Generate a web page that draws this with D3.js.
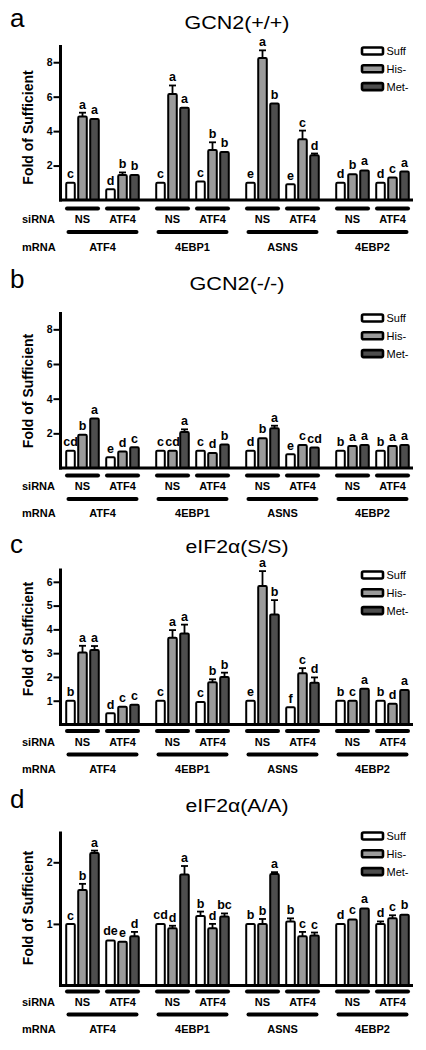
<!DOCTYPE html>
<html><head><meta charset="utf-8">
<script src="https://cdn.jsdelivr.net/npm/d3@7"></script>
<style>
html,body{margin:0;padding:0;background:#fff;}
svg{display:block;font-family:"Liberation Sans",Arial,Helvetica,sans-serif;}
</style></head>
<body>
<svg id="chart" width="426" height="1050"></svg>
<script>
// ---------- data ----------
const genes = ["ATF4", "4EBP1", "ASNS", "4EBP2"];
const sirnas = ["NS", "ATF4"];
const series = ["Suff", "His-", "Met-"];

// values in order: ATF4-NS, ATF4-ATF4, 4EBP1-NS, 4EBP1-ATF4, ASNS-NS, ASNS-ATF4, 4EBP2-NS, 4EBP2-ATF4
const aSuff = [1.0, 0.62, 1.0, 1.07, 1.0, 0.92, 1.0, 1.0];
const aHis  = [4.85, 1.45, 6.15, 2.9, 8.24, 3.53, 1.5, 1.3];
const aMet  = [4.7, 1.45, 5.35, 2.78, 5.6, 2.6, 1.72, 1.65];
const aSuffErr = [0.02, 0.02, 0.02, 0.02, 0.02, 0.02, 0.02, 0.02];
const aHisErr  = [0.22, 0.15, 0.5, 0.45, 0.45, 0.5, 0.04, 0.04];
const aMetErr  = [0.05, 0.08, 0.05, 0.05, 0.05, 0.1, 0.06, 0.06];
const aLetters = [["c","a","a"],["d","b","b"],["c","a","a"],["c","b","b"],["e","a","b"],["e","c","d"],["d","b","a"],["d","c","a"]];

const bSuff = [1.0, 0.62, 1.0, 1.0, 1.0, 0.8, 1.0, 1.0];
const bHis  = [1.92, 0.95, 1.0, 0.87, 1.72, 1.33, 1.27, 1.27];
const bMet  = [2.85, 1.2, 2.08, 1.35, 2.3, 1.18, 1.33, 1.33];
const bSuffErr = [0.02, 0.02, 0.02, 0.02, 0.02, 0.02, 0.02, 0.02];
const bHisErr  = [0.07, 0.03, 0.03, 0.03, 0.06, 0.06, 0.03, 0.03];
const bMetErr  = [0.04, 0.04, 0.15, 0.06, 0.14, 0.03, 0.03, 0.04];
const bLetters = [["cd","b","a"],["e","d","c"],["c","cd","a"],["c","d","b"],["d","b","a"],["e","c","cd"],["b","a","a"],["b","a","a"]];

const cSuff = [1.0, 0.47, 1.0, 0.95, 1.0, 0.73, 1.0, 1.0];
const cHis  = [3.03, 0.75, 3.65, 1.78, 5.82, 2.15, 1.0, 0.87];
const cMet  = [3.13, 0.83, 3.83, 2.0, 4.63, 1.76, 1.5, 1.45];
const cSuffErr = [0.02, 0.02, 0.02, 0.02, 0.02, 0.02, 0.02, 0.02];
const cHisErr  = [0.28, 0.03, 0.32, 0.12, 0.63, 0.22, 0.03, 0.03];
const cMetErr  = [0.17, 0.03, 0.37, 0.18, 0.6, 0.22, 0.03, 0.03];
const cLetters = [["b","a","a"],["d","c","c"],["c","a","a"],["c","b","b"],["e","a","b"],["f","c","d"],["b","c","a"],["b","d","a"]];

const dSuff = [1.0, 0.73, 1.0, 1.13, 1.0, 1.04, 1.0, 1.0];
const dHis  = [1.55, 0.71, 0.93, 0.93, 1.0, 0.8, 1.07, 1.09];
const dMet  = [2.15, 0.8, 1.8, 1.12, 1.81, 0.81, 1.25, 1.15];
const dSuffErr = [0.005, 0.02, 0.02, 0.07, 0.02, 0.05, 0.02, 0.04];
const dHisErr  = [0.1, 0.02, 0.04, 0.07, 0.08, 0.07, 0.02, 0.05];
const dMetErr  = [0.04, 0.07, 0.14, 0.05, 0.03, 0.05, 0.02, 0.02];
const dLetters = [["c","b","a"],["de","e","d"],["cd","d","a"],["b","d","bc"],["b","b","a"],["b","c","c"],["d","c","a"],["d","c","b"]];

const panelLabels = ["a", "b", "c", "d"];
const panelTitles = ["GCN2(+/+)", "GCN2(-/-)", "eIF2\u03b1(S/S)", "eIF2\u03b1(A/A)"];
const aTicks = [2, 4, 6, 8];
const bTicks = [2, 4, 6, 8];
const cTicks = [1, 2, 3, 4, 5, 6];
const dTicks = [1, 2];
const yMax = [9, 9, 6.56, 2.5];

// ---------- layout ----------
const layout = [
  {letterY:26.5, titleY:29, titleLen:105, top:45, base:200, legendY:51, sirnaLine:208.5, sirnaText:223, mrnaLine:232, mrnaText:251, ylabelY:127.5},
  {letterY:288, titleY:290, titleLen:95, top:312, base:468, legendY:318, sirnaLine:475.5, sirnaText:490, mrnaLine:499, mrnaText:517, ylabelY:391},
  {letterY:553, titleY:552.5, titleLen:103, top:568.5, base:724.5, legendY:575, sirnaLine:731, sirnaText:746, mrnaLine:754.5, mrnaText:773, ylabelY:639},
  {letterY:808, titleY:812, titleLen:103, top:831.5, base:985.5, legendY:836, sirnaLine:991.5, sirnaText:1006, mrnaLine:1014.5, mrnaText:1033, ylabelY:908}
];

const panelData = [
  {vals:[aSuff,aHis,aMet], errs:[aSuffErr,aHisErr,aMetErr], letters:aLetters, ticks:aTicks},
  {vals:[bSuff,bHis,bMet], errs:[bSuffErr,bHisErr,bMetErr], letters:bLetters, ticks:bTicks},
  {vals:[cSuff,cHis,cMet], errs:[cSuffErr,cHisErr,cMetErr], letters:cLetters, ticks:cTicks},
  {vals:[dSuff,dHis,dMet], errs:[dSuffErr,dHisErr,dMetErr], letters:dLetters, ticks:dTicks}
];

const fills = ["#ffffff", "#9b9b9b", "#4e4e4e"];
const FONT = '"Liberation Sans",Arial,Helvetica,sans-serif';

const svg = d3.select("#chart");

const xGene = d3.scaleBand().domain(genes).range([57.5, 417.5]).paddingInner(0).paddingOuter(0);
const xSi = d3.scaleBand().domain(sirnas).range([0, xGene.bandwidth()]).paddingInner(0).paddingOuter(0.125);
const xSer = d3.scaleBand().domain(series).range([0, xSi.bandwidth()]).paddingInner(0.12).paddingOuter(0.2267);

panelData.forEach((pd, pi) => {
  const L = layout[pi];
  const g = svg.append("g");
  const y = d3.scaleLinear().domain([0, yMax[pi]]).range([L.base, L.top]);

  // panel letter and title
  g.append("text").attr("x", 10).attr("y", L.letterY).attr("font-size", 26).attr("fill", "#000").text(panelLabels[pi]);
  g.append("text").attr("x", 237).attr("y", L.titleY).attr("text-anchor", "middle").attr("font-size", 17.5)
    .attr("textLength", L.titleLen).attr("lengthAdjust", "spacingAndGlyphs").attr("fill", "#000").text(panelTitles[pi]);

  // flatten records
  const recs = [];
  genes.forEach((gene, gi) => {
    sirnas.forEach((si, si_i) => {
      const idx = gi * 2 + si_i;
      series.forEach((s, k) => {
        recs.push({gene, si, s, k, v: pd.vals[k][idx], e: pd.errs[k][idx], lab: pd.letters[idx][k]});
      });
    });
  });
  const bx = d => xGene(d.gene) + xSi(d.si) + xSer(d.s);
  const bw = xSer.bandwidth();

  // error bars
  const eg = g.append("g").attr("stroke", "#000").attr("stroke-width", 1.8);
  recs.forEach(d => {
    const cx = bx(d) + bw / 2;
    const y0 = y(d.v), y1 = y(d.v + d.e);
    if (y0 - y1 > 1.5) {
      eg.append("line").attr("x1", cx).attr("x2", cx).attr("y1", y0).attr("y2", y1);
      eg.append("line").attr("x1", cx - 3.5).attr("x2", cx + 3.5).attr("y1", y1).attr("y2", y1);
    }
  });

  // bars
  g.append("g").selectAll("rect").data(recs).join("rect")
    .attr("x", d => bx(d) + 1)
    .attr("width", bw - 2)
    .attr("y", d => y(d.v))
    .attr("height", d => y(0) - y(d.v))
    .attr("rx", 1.2)
    .attr("fill", d => fills[d.k])
    .attr("stroke", "#000")
    .attr("stroke-width", 2);

  // significance letters
  g.append("g").selectAll("text").data(recs).join("text")
    .attr("x", d => bx(d) + bw / 2)
    .attr("y", d => Math.min(y(d.v + d.e), y(d.v)) - 4)
    .attr("text-anchor", "middle")
    .attr("font-size", 12.5)
    .attr("font-weight", "bold")
    .text(d => d.lab);

  // x axis baseline
  g.append("line").attr("x1", 59).attr("x2", 413).attr("y1", L.base).attr("y2", L.base)
    .attr("stroke", "#000").attr("stroke-width", 3);

  // y axis
  const ax = g.append("g").attr("transform", "translate(60.5,0)")
    .call(d3.axisLeft(y).tickValues(pd.ticks).tickSize(7).tickSizeOuter(0).tickPadding(1).tickFormat(d3.format("d")));
  ax.select(".domain").attr("stroke-width", 3).attr("d", `M0,${L.top}V${L.base + 1.5}`);
  ax.selectAll(".tick line").attr("stroke-width", 2);
  ax.selectAll(".tick text").attr("font-size", 10.5).attr("font-weight", "bold").attr("font-family", FONT);

  // y label
  g.append("text").attr("transform", `translate(33,${L.ylabelY}) rotate(-90)`)
    .attr("text-anchor", "middle").attr("font-size", 14).attr("font-weight", "bold").text("Fold of Sufficient");

  // legend
  series.forEach((s, k) => {
    const ly = L.legendY + k * 17.8;
    g.append("rect").attr("x", 362).attr("y", ly - 3.5).attr("width", 21).attr("height", 7).attr("rx", 1.5)
      .attr("fill", fills[k]).attr("stroke", "#000").attr("stroke-width", 2.6);
    g.append("text").attr("x", 386.5).attr("y", ly + 4).attr("font-size", 11).text(s);
  });

  // siRNA / mRNA rows
  g.append("text").attr("x", 22).attr("y", L.sirnaText).attr("font-size", 11).attr("font-weight", "bold").text("siRNA");
  g.append("text").attr("x", 22).attr("y", L.mrnaText).attr("font-size", 11).attr("font-weight", "bold").text("mRNA");
  genes.forEach(gene => {
    sirnas.forEach(si => {
      const cx = xGene(gene) + xSi(si) + xSi.bandwidth() / 2;
      g.append("line").attr("x1", cx - 15.5).attr("x2", cx + 15.5).attr("y1", L.sirnaLine).attr("y2", L.sirnaLine)
        .attr("stroke", "#000").attr("stroke-width", 4).attr("stroke-linecap", "round");
      g.append("text").attr("x", cx).attr("y", L.sirnaText).attr("text-anchor", "middle")
        .attr("font-size", 11).attr("font-weight", "bold").text(si);
    });
    const gx = xGene(gene) + xGene.bandwidth() / 2;
    g.append("line").attr("x1", gx - 34).attr("x2", gx + 34).attr("y1", L.mrnaLine).attr("y2", L.mrnaLine)
      .attr("stroke", "#000").attr("stroke-width", 4).attr("stroke-linecap", "round");
    g.append("text").attr("x", gx).attr("y", L.mrnaText).attr("text-anchor", "middle")
      .attr("font-size", 11).attr("font-weight", "bold").text(gene);
  });
});
</script>
</body></html>
